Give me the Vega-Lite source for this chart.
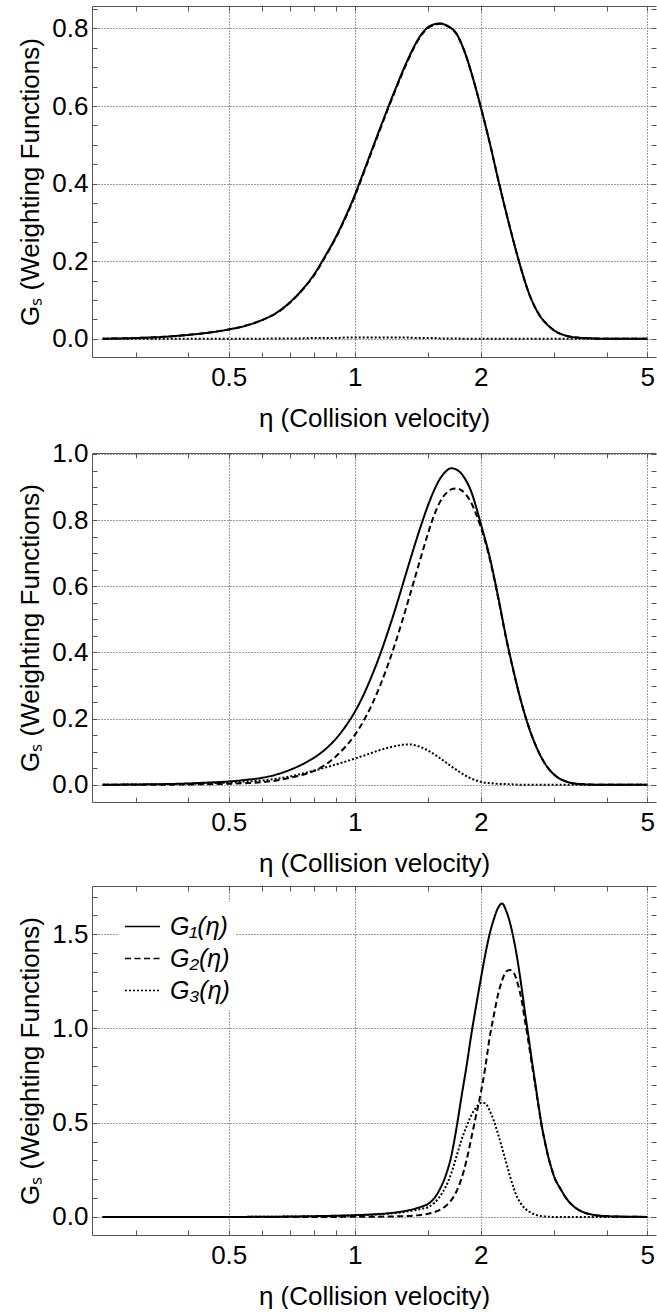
{
"$schema": "https://vega.github.io/schema/vega-lite/v6.json",
"background": "white",
"padding": {"left": 17, "top": 5, "right": 0, "bottom": 0},
"config": {
  "font": "Liberation Sans",
  "view": {"stroke": null},
  "axis": {"labelFont": "Liberation Sans", "titleFont": "Liberation Sans", "labelFontSize": 26, "titleFontSize": 26, "labelColor": "black", "titleColor": "black", "titleFontWeight": "normal", "domainColor": "#555", "tickColor": "#555", "gridColor": "#3a3a3a", "gridDash": [1, 2], "gridWidth": 1, "labelFlush": false, "labelOverlap": false, "labelBound": false},
  "legend": {"labelFont": "Liberation Sans"}
},
"datasets": {
"p1": [
{"eta":0.25,"G1":0,"G2":0,"G3":0},
{"eta":0.3,"G1":0.002,"G2":0.002,"G3":0},
{"eta":0.35,"G1":0.005,"G2":0.005,"G3":0},
{"eta":0.4,"G1":0.010,"G2":0.010,"G3":0},
{"eta":0.45,"G1":0.016,"G2":0.016,"G3":0},
{"eta":0.5,"G1":0.024,"G2":0.024,"G3":0},
{"eta":0.55,"G1":0.034,"G2":0.034,"G3":0},
{"eta":0.6,"G1":0.048,"G2":0.048,"G3":0},
{"eta":0.65,"G1":0.067,"G2":0.066,"G3":0.001},
{"eta":0.7,"G1":0.094,"G2":0.093,"G3":0.001},
{"eta":0.75,"G1":0.127,"G2":0.126,"G3":0.001},
{"eta":0.8,"G1":0.166,"G2":0.164,"G3":0.002},
{"eta":0.85,"G1":0.213,"G2":0.211,"G3":0.002},
{"eta":0.9,"G1":0.261,"G2":0.259,"G3":0.002},
{"eta":0.95,"G1":0.314,"G2":0.311,"G3":0.003},
{"eta":1.0,"G1":0.370,"G2":0.367,"G3":0.003},
{"eta":1.05,"G1":0.430,"G2":0.427,"G3":0.003},
{"eta":1.1,"G1":0.488,"G2":0.485,"G3":0.003},
{"eta":1.15,"G1":0.543,"G2":0.540,"G3":0.003},
{"eta":1.2,"G1":0.595,"G2":0.592,"G3":0.003},
{"eta":1.25,"G1":0.643,"G2":0.640,"G3":0.003},
{"eta":1.3,"G1":0.688,"G2":0.685,"G3":0.003},
{"eta":1.35,"G1":0.728,"G2":0.725,"G3":0.003},
{"eta":1.4,"G1":0.762,"G2":0.760,"G3":0.002},
{"eta":1.45,"G1":0.788,"G2":0.786,"G3":0.002},
{"eta":1.5,"G1":0.804,"G2":0.802,"G3":0.002},
{"eta":1.55,"G1":0.811,"G2":0.809,"G3":0.002},
{"eta":1.6,"G1":0.813,"G2":0.812,"G3":0.001},
{"eta":1.65,"G1":0.809,"G2":0.808,"G3":0.001},
{"eta":1.7,"G1":0.801,"G2":0.800,"G3":0.001},
{"eta":1.75,"G1":0.787,"G2":0.786,"G3":0.001},
{"eta":1.8,"G1":0.760,"G2":0.760,"G3":0},
{"eta":1.85,"G1":0.726,"G2":0.726,"G3":0},
{"eta":1.9,"G1":0.686,"G2":0.686,"G3":0},
{"eta":1.95,"G1":0.643,"G2":0.643,"G3":0},
{"eta":2.0,"G1":0.598,"G2":0.598,"G3":0},
{"eta":2.1,"G1":0.507,"G2":0.507,"G3":0},
{"eta":2.2,"G1":0.412,"G2":0.412,"G3":0},
{"eta":2.3,"G1":0.326,"G2":0.326,"G3":0},
{"eta":2.4,"G1":0.248,"G2":0.248,"G3":0},
{"eta":2.5,"G1":0.179,"G2":0.179,"G3":0},
{"eta":2.6,"G1":0.121,"G2":0.121,"G3":0},
{"eta":2.7,"G1":0.080,"G2":0.080,"G3":0},
{"eta":2.8,"G1":0.052,"G2":0.052,"G3":0},
{"eta":2.9,"G1":0.034,"G2":0.034,"G3":0},
{"eta":3.0,"G1":0.021,"G2":0.021,"G3":0},
{"eta":3.2,"G1":0.008,"G2":0.008,"G3":0},
{"eta":3.4,"G1":0.003,"G2":0.003,"G3":0},
{"eta":3.7,"G1":0.001,"G2":0.001,"G3":0},
{"eta":4.0,"G1":0,"G2":0,"G3":0},
{"eta":4.5,"G1":0,"G2":0,"G3":0},
{"eta":5.0,"G1":0,"G2":0,"G3":0}
],
"p2": [
{"eta":0.25,"G1":0,"G2":0,"G3":0},
{"eta":0.3,"G1":0.001,"G2":0,"G3":0.001},
{"eta":0.35,"G1":0.002,"G2":0,"G3":0.002},
{"eta":0.4,"G1":0.004,"G2":0.001,"G3":0.003},
{"eta":0.45,"G1":0.007,"G2":0.002,"G3":0.005},
{"eta":0.5,"G1":0.010,"G2":0.003,"G3":0.007},
{"eta":0.55,"G1":0.015,"G2":0.005,"G3":0.010},
{"eta":0.6,"G1":0.021,"G2":0.008,"G3":0.013},
{"eta":0.65,"G1":0.031,"G2":0.013,"G3":0.018},
{"eta":0.7,"G1":0.045,"G2":0.021,"G3":0.025},
{"eta":0.75,"G1":0.062,"G2":0.030,"G3":0.034},
{"eta":0.8,"G1":0.082,"G2":0.042,"G3":0.043},
{"eta":0.85,"G1":0.107,"G2":0.060,"G3":0.052},
{"eta":0.9,"G1":0.138,"G2":0.085,"G3":0.061},
{"eta":0.95,"G1":0.176,"G2":0.115,"G3":0.070},
{"eta":1.0,"G1":0.220,"G2":0.150,"G3":0.079},
{"eta":1.05,"G1":0.272,"G2":0.193,"G3":0.088},
{"eta":1.1,"G1":0.331,"G2":0.243,"G3":0.097},
{"eta":1.15,"G1":0.394,"G2":0.300,"G3":0.105},
{"eta":1.2,"G1":0.462,"G2":0.362,"G3":0.112},
{"eta":1.25,"G1":0.531,"G2":0.428,"G3":0.117},
{"eta":1.3,"G1":0.602,"G2":0.497,"G3":0.121},
{"eta":1.35,"G1":0.671,"G2":0.567,"G3":0.122},
{"eta":1.4,"G1":0.736,"G2":0.636,"G3":0.119},
{"eta":1.45,"G1":0.795,"G2":0.702,"G3":0.112},
{"eta":1.5,"G1":0.848,"G2":0.764,"G3":0.103},
{"eta":1.55,"G1":0.892,"G2":0.817,"G3":0.092},
{"eta":1.6,"G1":0.926,"G2":0.856,"G3":0.080},
{"eta":1.65,"G1":0.947,"G2":0.880,"G3":0.068},
{"eta":1.7,"G1":0.957,"G2":0.893,"G3":0.056},
{"eta":1.75,"G1":0.953,"G2":0.896,"G3":0.045},
{"eta":1.8,"G1":0.940,"G2":0.890,"G3":0.035},
{"eta":1.85,"G1":0.917,"G2":0.875,"G3":0.026},
{"eta":1.9,"G1":0.885,"G2":0.852,"G3":0.019},
{"eta":1.95,"G1":0.840,"G2":0.818,"G3":0.013},
{"eta":2.0,"G1":0.790,"G2":0.780,"G3":0.009},
{"eta":2.1,"G1":0.690,"G2":0.685,"G3":0.005},
{"eta":2.2,"G1":0.570,"G2":0.567,"G3":0.003},
{"eta":2.3,"G1":0.445,"G2":0.443,"G3":0.002},
{"eta":2.4,"G1":0.340,"G2":0.339,"G3":0.001},
{"eta":2.5,"G1":0.250,"G2":0.250,"G3":0},
{"eta":2.6,"G1":0.178,"G2":0.178,"G3":0},
{"eta":2.7,"G1":0.122,"G2":0.122,"G3":0},
{"eta":2.8,"G1":0.080,"G2":0.080,"G3":0},
{"eta":2.9,"G1":0.050,"G2":0.050,"G3":0},
{"eta":3.0,"G1":0.030,"G2":0.030,"G3":0},
{"eta":3.2,"G1":0.010,"G2":0.010,"G3":0},
{"eta":3.4,"G1":0.003,"G2":0.003,"G3":0},
{"eta":3.7,"G1":0.0005,"G2":0.0005,"G3":0},
{"eta":4.0,"G1":0,"G2":0,"G3":0},
{"eta":4.5,"G1":0,"G2":0,"G3":0},
{"eta":5.0,"G1":0,"G2":0,"G3":0}
],
"p3": [
{"eta":0.25,"G1":0,"G2":0,"G3":0},
{"eta":0.5,"G1":0,"G2":0,"G3":0},
{"eta":0.7,"G1":0.002,"G2":0,"G3":0.002},
{"eta":0.8,"G1":0.004,"G2":0,"G3":0.004},
{"eta":0.9,"G1":0.006,"G2":0,"G3":0.006},
{"eta":1.0,"G1":0.009,"G2":0.001,"G3":0.008},
{"eta":1.1,"G1":0.013,"G2":0.001,"G3":0.012},
{"eta":1.2,"G1":0.019,"G2":0.002,"G3":0.017},
{"eta":1.3,"G1":0.029,"G2":0.004,"G3":0.025},
{"eta":1.4,"G1":0.045,"G2":0.008,"G3":0.037},
{"eta":1.45,"G1":0.056,"G2":0.012,"G3":0.044},
{"eta":1.5,"G1":0.070,"G2":0.017,"G3":0.052},
{"eta":1.55,"G1":0.100,"G2":0.025,"G3":0.075},
{"eta":1.6,"G1":0.150,"G2":0.038,"G3":0.110},
{"eta":1.65,"G1":0.220,"G2":0.058,"G3":0.160},
{"eta":1.7,"G1":0.320,"G2":0.088,"G3":0.230},
{"eta":1.75,"G1":0.470,"G2":0.135,"G3":0.320},
{"eta":1.8,"G1":0.640,"G2":0.205,"G3":0.410},
{"eta":1.85,"G1":0.800,"G2":0.300,"G3":0.480},
{"eta":1.9,"G1":0.970,"G2":0.420,"G3":0.540},
{"eta":1.95,"G1":1.120,"G2":0.540,"G3":0.580},
{"eta":2.0,"G1":1.260,"G2":0.655,"G3":0.605},
{"eta":2.05,"G1":1.390,"G2":0.790,"G3":0.603},
{"eta":2.1,"G1":1.500,"G2":0.950,"G3":0.565},
{"eta":2.15,"G1":1.580,"G2":1.070,"G3":0.510},
{"eta":2.2,"G1":1.640,"G2":1.180,"G3":0.440},
{"eta":2.25,"G1":1.663,"G2":1.255,"G3":0.365},
{"eta":2.3,"G1":1.625,"G2":1.302,"G3":0.290},
{"eta":2.35,"G1":1.560,"G2":1.310,"G3":0.215},
{"eta":2.4,"G1":1.470,"G2":1.295,"G3":0.150},
{"eta":2.45,"G1":1.360,"G2":1.240,"G3":0.100},
{"eta":2.5,"G1":1.230,"G2":1.160,"G3":0.068},
{"eta":2.55,"G1":1.090,"G2":1.045,"G3":0.045},
{"eta":2.6,"G1":0.960,"G2":0.930,"G3":0.030},
{"eta":2.65,"G1":0.830,"G2":0.810,"G3":0.020},
{"eta":2.7,"G1":0.710,"G2":0.698,"G3":0.012},
{"eta":2.75,"G1":0.590,"G2":0.583,"G3":0.007},
{"eta":2.8,"G1":0.480,"G2":0.476,"G3":0.004},
{"eta":2.85,"G1":0.395,"G2":0.393,"G3":0.002},
{"eta":2.9,"G1":0.320,"G2":0.319,"G3":0.001},
{"eta":2.95,"G1":0.260,"G2":0.260,"G3":0},
{"eta":3.0,"G1":0.210,"G2":0.210,"G3":0},
{"eta":3.1,"G1":0.150,"G2":0.150,"G3":0},
{"eta":3.2,"G1":0.100,"G2":0.100,"G3":0},
{"eta":3.3,"G1":0.065,"G2":0.065,"G3":0},
{"eta":3.4,"G1":0.042,"G2":0.042,"G3":0},
{"eta":3.5,"G1":0.027,"G2":0.027,"G3":0},
{"eta":3.7,"G1":0.012,"G2":0.012,"G3":0},
{"eta":4.0,"G1":0.004,"G2":0.004,"G3":0},
{"eta":4.5,"G1":0.001,"G2":0.001,"G3":0},
{"eta":5.0,"G1":0,"G2":0,"G3":0}
]
},
"vconcat": [
{
  "width": 564, "height": 351,
  "data": {"name": "p1"},
  "transform": [{"fold": ["G1", "G2", "G3"], "as": ["s", "G"]}],
  "layer": [
    {"mark": {"type": "line", "color": "black", "strokeWidth": 2, "interpolate": "monotone", "clip": true},
     "encoding": {
       "x": {"field": "eta", "type": "quantitative", "scale": {"type": "log", "domain": [0.2357, 5.246], "nice": false},
             "axis": {"orient": "bottom", "values": [0.3,0.4,0.5,0.6,0.7,0.8,0.9,1,1.5,2,3,4,5], "format": "~g",
                      "labelExpr": "(datum.value==0.5||datum.value==1||datum.value==2||datum.value==5) ? datum.label : ''",
                      "gridOpacity": {"condition": {"test": "datum.value==0.5||datum.value==1||datum.value==2||datum.value==5", "value": 1}, "value": 0},
                      "grid": true, "tickSize": -5, "labelPadding": 12, "titlePadding": 15, "title": "η (Collision velocity)"}},
       "y": {"field": "G", "type": "quantitative", "scale": {"domain": [-0.047, 0.858], "nice": false, "zero": false},
             "axis": {"orient": "left", "values": [0,0.05,0.1,0.15,0.2,0.25,0.3,0.35,0.4,0.45,0.5,0.55,0.6,0.65,0.7,0.75,0.8,0.85], "format": ".1f",
                      "labelExpr": "abs(datum.value*5-round(datum.value*5))<0.001 ? datum.label : ''",
                      "labelFontSize": {"condition": {"test": "abs(datum.value*5-round(datum.value*5))<0.001", "value": 26}, "value": 0},
                      "gridOpacity": {"condition": {"test": "abs(datum.value*5-round(datum.value*5))<0.001", "value": 1}, "value": 0},
                      "grid": true, "tickSize": -5, "labelPadding": 9, "titlePadding": 8, "title": "Gₛ (Weighting Functions)"}},
       "strokeDash": {"field": "s", "type": "nominal", "scale": {"domain": ["G1","G2","G3"], "range": [[1,0],[6,3.5],[2,2]]}, "legend": null}
     }},
    {"mark": {"type": "point", "opacity": 0},
     "encoding": {
       "x": {"field": "eta", "type": "quantitative", "scale": {"type": "log", "domain": [0.2357, 5.246], "nice": false},
             "axis": {"orient": "top", "values": [0.3,0.4,0.5,0.6,0.7,0.8,0.9,1,1.5,2,3,4,5], "labels": false, "grid": false, "tickSize": -5, "title": null}},
       "y": {"field": "G", "type": "quantitative", "scale": {"domain": [-0.047, 0.858], "nice": false, "zero": false},
             "axis": {"orient": "right", "values": [0,0.05,0.1,0.15,0.2,0.25,0.3,0.35,0.4,0.45,0.5,0.55,0.6,0.65,0.7,0.75,0.8,0.85], "labels": false, "grid": false, "domain": false, "tickSize": -5, "title": null}}
     }}
  ],
  "resolve": {"axis": {"x": "independent", "y": "independent"}}
},
{
  "width": 564, "height": 349,
  "data": {"name": "p2"},
  "transform": [{"fold": ["G1", "G2", "G3"], "as": ["s", "G"]}],
  "layer": [
    {"mark": {"type": "line", "color": "black", "strokeWidth": 2, "interpolate": "monotone", "clip": true},
     "encoding": {
       "x": {"field": "eta", "type": "quantitative", "scale": {"type": "log", "domain": [0.2357, 5.246], "nice": false},
             "axis": {"orient": "bottom", "values": [0.3,0.4,0.5,0.6,0.7,0.8,0.9,1,1.5,2,3,4,5], "format": "~g",
                      "labelExpr": "(datum.value==0.5||datum.value==1||datum.value==2||datum.value==5) ? datum.label : ''",
                      "gridOpacity": {"condition": {"test": "datum.value==0.5||datum.value==1||datum.value==2||datum.value==5", "value": 1}, "value": 0},
                      "grid": true, "tickSize": -5, "labelPadding": 12, "titlePadding": 15, "title": "η (Collision velocity)"}},
       "y": {"field": "G", "type": "quantitative", "scale": {"domain": [-0.052, 1.003], "nice": false, "zero": false},
             "axis": {"orient": "left", "values": [0,0.05,0.1,0.15,0.2,0.25,0.3,0.35,0.4,0.45,0.5,0.55,0.6,0.65,0.7,0.75,0.8,0.85,0.9,0.95,1.0], "format": ".1f",
                      "labelExpr": "abs(datum.value*5-round(datum.value*5))<0.001 ? datum.label : ''",
                      "labelFontSize": {"condition": {"test": "abs(datum.value*5-round(datum.value*5))<0.001", "value": 26}, "value": 0},
                      "gridOpacity": {"condition": {"test": "abs(datum.value*5-round(datum.value*5))<0.001", "value": 1}, "value": 0},
                      "grid": true, "tickSize": -5, "labelPadding": 9, "titlePadding": 8, "title": "Gₛ (Weighting Functions)"}},
       "strokeDash": {"field": "s", "type": "nominal", "scale": {"domain": ["G1","G2","G3"], "range": [[1,0],[6,3.5],[2,2]]}, "legend": null}
     }},
    {"mark": {"type": "point", "opacity": 0},
     "encoding": {
       "x": {"field": "eta", "type": "quantitative", "scale": {"type": "log", "domain": [0.2357, 5.246], "nice": false},
             "axis": {"orient": "top", "values": [0.3,0.4,0.5,0.6,0.7,0.8,0.9,1,1.5,2,3,4,5], "labels": false, "grid": false, "tickSize": -5, "title": null}},
       "y": {"field": "G", "type": "quantitative", "scale": {"domain": [-0.052, 1.003], "nice": false, "zero": false},
             "axis": {"orient": "right", "values": [0,0.05,0.1,0.15,0.2,0.25,0.3,0.35,0.4,0.45,0.5,0.55,0.6,0.65,0.7,0.75,0.8,0.85,0.9,0.95,1.0], "labels": false, "grid": false, "domain": false, "tickSize": -5, "title": null}}
     }}
  ],
  "resolve": {"axis": {"x": "independent", "y": "independent"}}
},
{
  "width": 564, "height": 349,
  "data": {"name": "p3"},
  "transform": [{"fold": ["G1", "G2", "G3"], "as": ["s", "G"]}],
  "layer": [
    {"mark": {"type": "line", "color": "black", "strokeWidth": 2, "interpolate": "monotone", "clip": true},
     "encoding": {
       "x": {"field": "eta", "type": "quantitative", "scale": {"type": "log", "domain": [0.2357, 5.246], "nice": false},
             "axis": {"orient": "bottom", "values": [0.3,0.4,0.5,0.6,0.7,0.8,0.9,1,1.5,2,3,4,5], "format": "~g",
                      "labelExpr": "(datum.value==0.5||datum.value==1||datum.value==2||datum.value==5) ? datum.label : ''",
                      "gridOpacity": {"condition": {"test": "datum.value==0.5||datum.value==1||datum.value==2||datum.value==5", "value": 1}, "value": 0},
                      "grid": true, "tickSize": -5, "labelPadding": 12, "titlePadding": 15, "title": "η (Collision velocity)"}},
       "y": {"field": "G", "type": "quantitative", "scale": {"domain": [-0.096, 1.756], "nice": false, "zero": false},
             "axis": {"orient": "left", "values": [0,0.1,0.2,0.3,0.4,0.5,0.6,0.7,0.8,0.9,1.0,1.1,1.2,1.3,1.4,1.5,1.6,1.7], "format": ".1f",
                      "labelExpr": "abs(datum.value*2-round(datum.value*2))<0.001 ? datum.label : ''",
                      "labelFontSize": {"condition": {"test": "abs(datum.value*2-round(datum.value*2))<0.001", "value": 26}, "value": 0},
                      "gridOpacity": {"condition": {"test": "abs(datum.value*2-round(datum.value*2))<0.001", "value": 1}, "value": 0},
                      "grid": true, "tickSize": -5, "labelPadding": 9, "titlePadding": 8, "title": "Gₛ (Weighting Functions)"}},
       "strokeDash": {"field": "s", "type": "nominal", "scale": {"domain": ["G1","G2","G3"], "range": [[1,0],[6,3.5],[2,2]]},
                      "legend": {"orient": "none", "legendX": 26, "legendY": 16, "title": null, "symbolType": "stroke", "symbolSize": 1225, "symbolStrokeWidth": 1.6, "symbolStrokeColor": "black",
                                 "labelFontSize": 25, "labelFontStyle": "italic", "labelColor": "black", "labelOffset": 9, "rowPadding": 0,
                                 "labelExpr": "datum.label == 'G1' ? 'G₁(η)' : datum.label == 'G2' ? 'G₂(η)' : 'G₃(η)'",
                                 "fillColor": "white", "padding": 6}}
     }},
    {"mark": {"type": "point", "opacity": 0},
     "encoding": {
       "x": {"field": "eta", "type": "quantitative", "scale": {"type": "log", "domain": [0.2357, 5.246], "nice": false},
             "axis": {"orient": "top", "values": [0.3,0.4,0.5,0.6,0.7,0.8,0.9,1,1.5,2,3,4,5], "labels": false, "grid": false, "tickSize": -5, "title": null}},
       "y": {"field": "G", "type": "quantitative", "scale": {"domain": [-0.096, 1.756], "nice": false, "zero": false},
             "axis": {"orient": "right", "values": [0,0.1,0.2,0.3,0.4,0.5,0.6,0.7,0.8,0.9,1.0,1.1,1.2,1.3,1.4,1.5,1.6,1.7], "labels": false, "grid": false, "domain": false, "tickSize": -5, "title": null}}
     }}
  ],
  "resolve": {"axis": {"x": "independent", "y": "independent"}}
}
],
"spacing": 9,
"resolve": {"scale": {"strokeDash": "independent"}}
}
